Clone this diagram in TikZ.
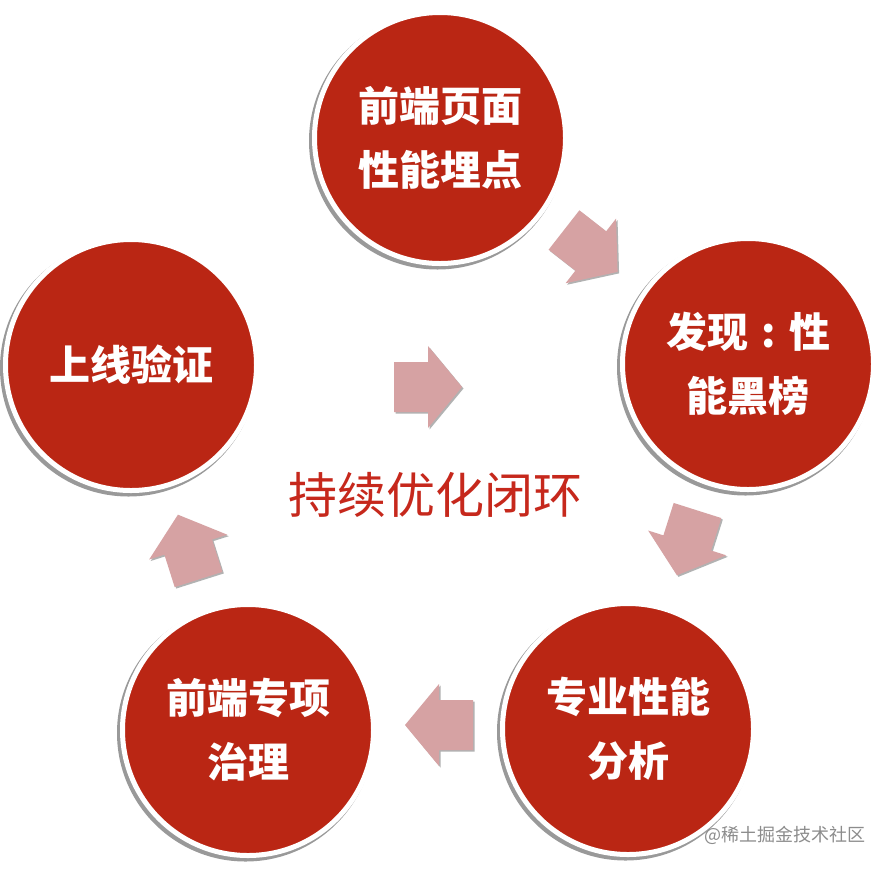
\documentclass[tikz,border=0pt]{standalone}
\usepackage{fontspec}
\newfontfamily\cjk{Noto Sans CJK SC}
\newfontfamily\cjkheavy{Noto Sans CJK SC Black}
\definecolor{circred}{RGB}{186,38,20}
\definecolor{arrowpink}{RGB}{214,162,163}
\definecolor{titlered}{RGB}{198,40,28}
\newcommand{\blockarrowat}[3]{%
  \fill[black!30, shift={(#1+1.5,#2+1.5)}, rotate={-(#3)}]
    (0,-25) -- (34,-25) -- (34,-41) -- (68,0) -- (34,41) -- (34,25) -- (0,25) -- cycle;
  \fill[arrowpink, shift={(#1,#2)}, rotate={-(#3)}]
    (0,-25) -- (34,-25) -- (34,-41) -- (68,0) -- (34,41) -- (34,25) -- (0,25) -- cycle;
}
\begin{document}
\begin{tikzpicture}[x=1pt,y=-1pt,
  stage/.style={circle, fill=circred, draw=white, line width=5pt,
    minimum size=251pt, inner sep=0pt, text=white, align=center,
    font=\cjkheavy\fontsize{41}{64}\selectfont},
  stageshadow/.style={circle, fill=black!40, minimum size=257pt, inner sep=0pt}
]
\useasboundingbox (0,0) rectangle (888,868);
\fill[white] (0,0) rectangle (888,868);

% shadows of the circles
\node[stageshadow] (s1) at (437.5,141) {};
\node[stageshadow] (s2) at (745.5,367) {};
\node[stageshadow] (s3) at (625.5,732) {};
\node[stageshadow] (s4) at (245.5,733) {};
\node[stageshadow] (s5) at (128.5,368) {};

% circles
\node[stage] (c1) at (440,138) {前端页面\\性能埋点};
\node[stage] (c2) at (748,364) {发现\makebox[41pt][c]{:}性\\能黑榜};
\node[stage] (c3) at (628,729) {专业性能\\分析};
\node[stage] (c4) at (248,730) {前端专项\\治理};
\node[stage] (c5) at (131,365) {上线验证};

% block arrows
\blockarrowat{564}{230}{38}
\blockarrowat{697.5}{510.5}{107.6}
\blockarrowat{473}{725}{180}
\blockarrowat{198.5}{579.5}{-107.6}
\blockarrowat{394}{387}{0}

% centre title
\node[text=titlered, font=\cjk\fontsize{49}{56}\selectfont] (title) at (435,495) {持续优化闭环};

% watermark
\node[anchor=west, inner sep=0pt, text=black!45, font=\cjk\fontsize{18}{20}\selectfont] (wm) at (704,835) {@稀土掘金技术社区};
\end{tikzpicture}
\end{document}
